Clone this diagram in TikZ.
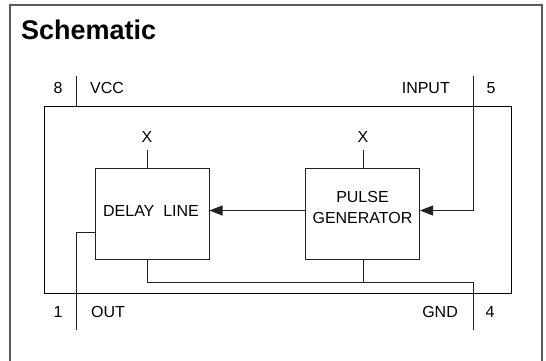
\documentclass[tikz,border=0pt]{standalone}
\usepackage{fontspec}
\setmainfont{Liberation Sans}
\usepackage{xcolor}
\usetikzlibrary{arrows.meta}
\definecolor{SCLine}{HTML}{222222}
\definecolor{SCFrame}{HTML}{5A5A5A}

\begin{document}
\begin{tikzpicture}[x=1pt,y=-1pt,
  blk/.style={draw=SCLine,line width=1pt,minimum width=114pt,minimum height=91pt,inner sep=0pt},
  lab/.style={font=\fontsize{16}{21}\selectfont,inner sep=0pt,align=center},
  wire/.style={SCLine,line width=1pt},
  sig/.style={wire,-{Triangle[length=13pt,width=10pt]}}]
\useasboundingbox (0,0) rectangle (546,360);
\draw[SCFrame,line width=1.3pt] (10,365)--(10,5)--(542,5)--(542,365);
\node[anchor=base west,inner sep=0pt,font=\fontsize{27}{30}\selectfont\bfseries] (title) at (21,39) {Schematic};
% chip outline and blocks
\node[draw,line width=1pt,minimum width=467pt,minimum height=187pt,inner sep=0pt] (chip) at (277.5,199.5) {};
\node[blk] (delay) at (152,213.5) {};
\node[blk] (pulse) at (362.5,213.5) {};
\node[lab] (delaytxt) at (151,211) {DELAY\ \ LINE};
\node[lab] (pulsetxt) at (362.5,207.5) {PULSE\\GENERATOR};
\foreach \nm/\x in {xdl/147,xpg/363} {
  \node[lab] (\nm) at (\x,137) {X};
}
% pins
\coordinate (pin8) at (76,76);
\coordinate (pin5) at (473,76);
\coordinate (pin1) at (76,330);
\coordinate (pin4) at (473,330);
\coordinate (gndjoin) at (473,282);
\foreach \nm/\x/\y/\txt in {n8/58/88/8,n5/491/88/5,n1/58/312/1,n4/490/312/4} {
  \node[lab] (\nm) at (\x,\y) {\txt};
}
\node[lab,anchor=west] (vcc) at (90,88) {VCC};
\node[lab,anchor=east] (inp) at (450,88) {INPUT};
\node[lab,anchor=west] (out) at (91,312) {OUT};
\node[lab,anchor=east] (gnd) at (458,312) {GND};
% wiring
\draw[wire] (pin8) -- (pin8 |- chip.north);
\draw[wire] ([xshift=-5pt]delay.north) -- +(0,-18);
\draw[wire] ([xshift=0.5pt]pulse.north) -- +(0,-18);
\draw[sig] (pin5) |- ([yshift=3pt]pulse.east);
\draw[sig] ([yshift=3pt]pulse.west) -- ([yshift=3pt]delay.east);
\draw[wire] ([yshift=-18.5pt]delay.west) -| (pin1);
\draw[wire] ([xshift=-5pt]delay.south) |- (gndjoin) -- (pin4);
\draw[wire] ([xshift=0.5pt]pulse.south) -- ([xshift=0.5pt]pulse.south |- gndjoin);
\end{tikzpicture}
\end{document}
